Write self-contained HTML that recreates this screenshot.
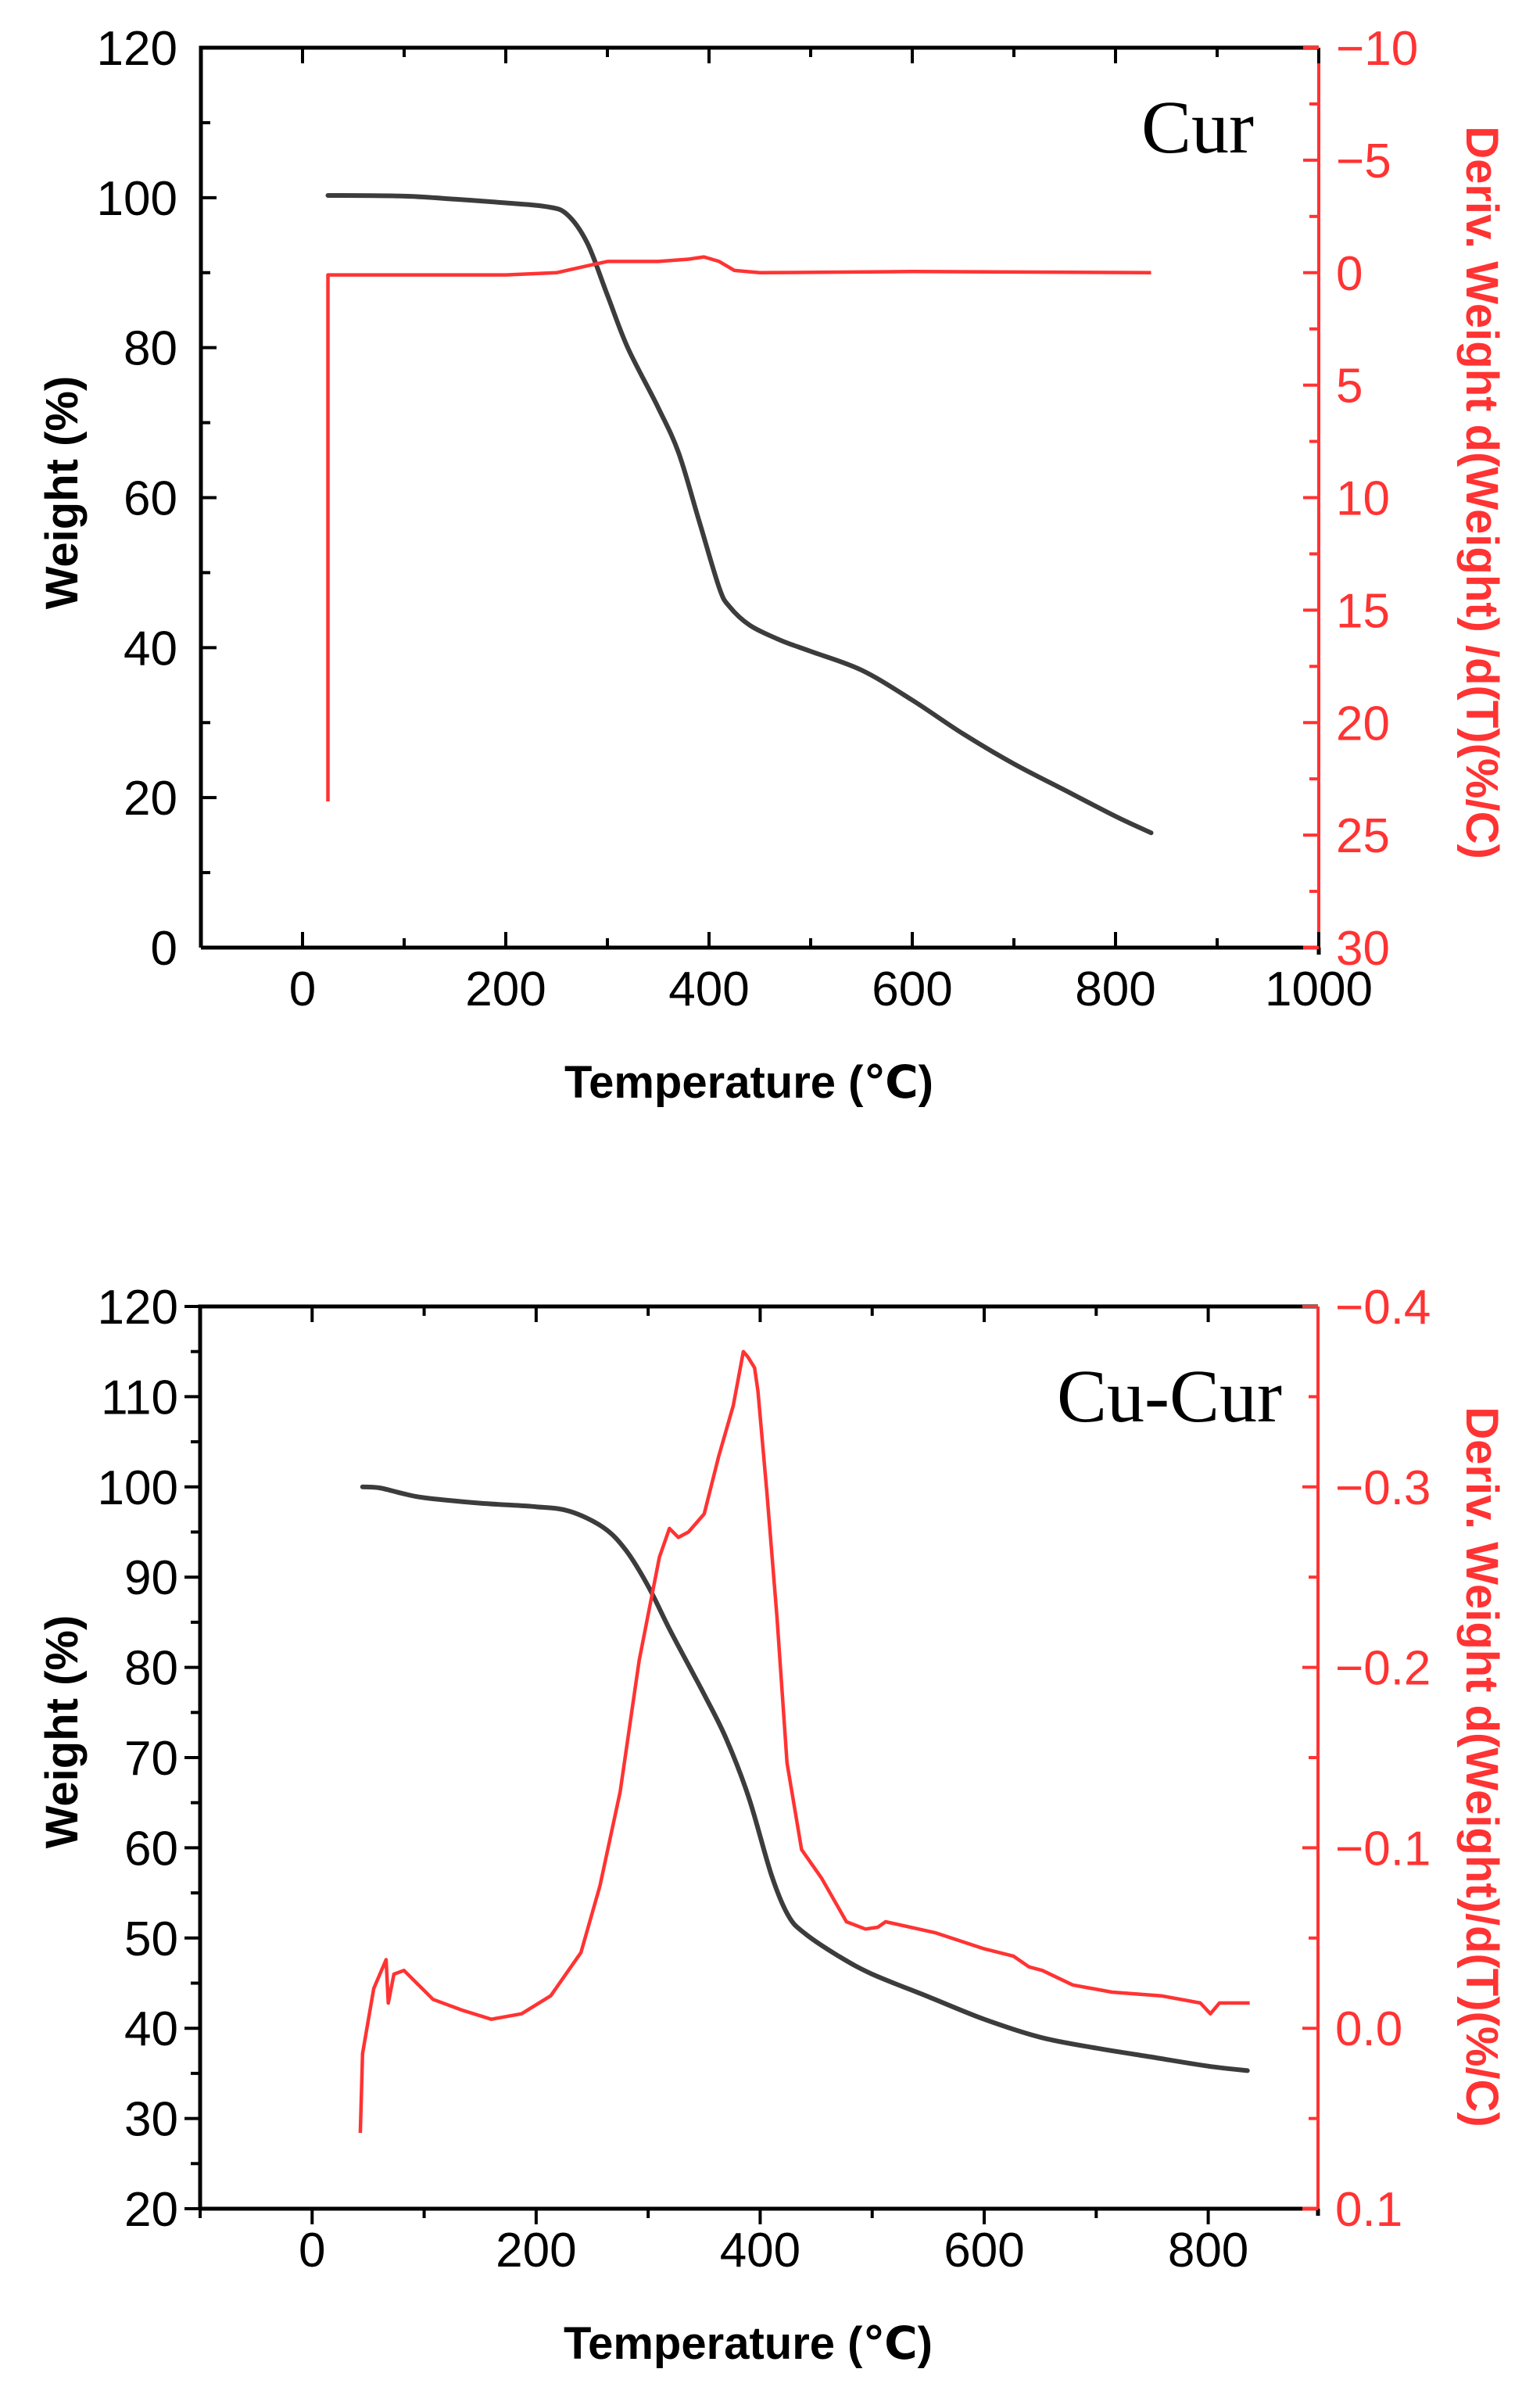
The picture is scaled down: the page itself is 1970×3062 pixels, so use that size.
<!DOCTYPE html>
<html><head><meta charset="utf-8"><style>
html,body{margin:0;padding:0;background:#fff;}
svg{display:block;}
.tk{font-family:"Liberation Sans Narrow","Liberation Sans",sans-serif;font-size:62px;}
.ttl{font-family:"Liberation Sans","DejaVu Sans",sans-serif;font-size:58px;font-weight:bold;}
.rt{font-family:"Liberation Sans","DejaVu Sans",sans-serif;font-size:58px;font-weight:bold;}
.xt{font-family:"Liberation Sans Narrow","Liberation Sans",sans-serif;font-size:62px;}
.lab{font-family:"Liberation Serif",serif;font-size:96px;}
</style></head><body>
<svg id="chart" width="1970" height="3062" viewBox="0 0 1970 3062" xmlns="http://www.w3.org/2000/svg"></svg>
<script>
// Panel 1: Cur
const curTemp = [25,100,150,200,240,260,280,300,320,350,370,390,410,420,440,470,500,550,600,650,700,750,800,835];
const curWeight = [100.3,100.2,99.8,99.3,98.8,97.8,94,87,80,72,66,57,48,45.5,43,41,39.5,37,33,28.5,24.5,21,17.5,15.3];
const curDerivTemp = [25,25,60,200,250,280,300,350,380,395,410,425,450,600,835];
const curDeriv = [23.5,0.1,0.1,0.1,0,-0.3,-0.5,-0.5,-0.6,-0.7,-0.5,-0.1,0,-0.05,0];
const curLeftTicks = [0,20,40,60,80,100,120];
const curRightTicks = [-10,-5,0,5,10,15,20,25,30];
const curRightLabels = ["\u221210","\u22125","0","5","10","15","20","25","30"];
const curXTicks = [0,200,400,600,800,1000];

// Panel 2: Cu-Cur
const cucTemp = [45,60,80,100,150,200,230,260,280,300,320,350,370,390,410,425,440,470,500,550,600,650,700,750,800,835];
const cucWeight = [100,99.9,99.3,98.8,98.2,97.8,97.3,95.5,93,89,84,77,72,65.5,57,52.5,50.5,48,46,43.5,41,39,37.8,36.8,35.8,35.3];
const cucDerivTemp = [43,45,55,66,68,73,82,108,134,160,187,213,240,257,275,292,310,319,327,336,350,363,376,385,389,395,398,406,415,424,437,455,477,494,505,512,556,600,626,640,652,679,714,758,793,802,810,837];
const cucDeriv = [0.058,0.014,-0.022,-0.038,-0.014,-0.030,-0.032,-0.016,-0.010,-0.005,-0.008,-0.018,-0.042,-0.079,-0.131,-0.204,-0.261,-0.277,-0.272,-0.275,-0.285,-0.317,-0.345,-0.375,-0.372,-0.366,-0.353,-0.297,-0.228,-0.147,-0.099,-0.083,-0.059,-0.055,-0.056,-0.059,-0.053,-0.044,-0.040,-0.034,-0.032,-0.024,-0.020,-0.018,-0.014,-0.008,-0.014,-0.014];
const cucLeftTicks = [20,30,40,50,60,70,80,90,100,110,120];
const cucRightTicks = [-0.4,-0.3,-0.2,-0.1,0.0,0.1];
const cucRightLabels = ["\u22120.4","\u22120.3","\u22120.2","\u22120.1","0.0","0.1"];
const cucXTicks = [0,200,400,600,800];

const NS = "http://www.w3.org/2000/svg";
const svg = document.getElementById('chart');
function el(tag, attrs, parent){const e=document.createElementNS(NS,tag);for(const k in attrs)e.setAttribute(k,attrs[k]);(parent||svg).appendChild(e);return e;}
function smooth(pts){
  let d = `M${pts[0][0].toFixed(1)},${pts[0][1].toFixed(1)}`;
  for(let i=0;i<pts.length-1;i++){
    const p0=pts[Math.max(0,i-1)],p1=pts[i],p2=pts[i+1],p3=pts[Math.min(pts.length-1,i+2)];
    const c1x=p1[0]+(p2[0]-p0[0])/6,c1y=p1[1]+(p2[1]-p0[1])/6;
    const c2x=p2[0]-(p3[0]-p1[0])/6,c2y=p2[1]-(p3[1]-p1[1])/6;
    d+=` C${c1x.toFixed(1)},${c1y.toFixed(1)} ${c2x.toFixed(1)},${c2y.toFixed(1)} ${p2[0].toFixed(1)},${p2[1].toFixed(1)}`;
  }
  return d;
}

function panel(o){
  const g = el('g',{});
  
  
  const xs = v => o.L + (v - o.xmin)/(o.xmax - o.xmin)*(o.R - o.L);
  const ys = v => o.B - (v - o.ymin)/(o.ymax - o.ymin)*(o.B - o.T);
  const yr = v => o.T + (v - o.rmin)/(o.rmax - o.rmin)*(o.B - o.T);
  const RED = '#ff3333';
  const fr = el('path',{d:`M${o.L},${o.B} L${o.L},${o.T} L${o.R},${o.T}`,fill:'none',stroke:'#000','stroke-width':5},g);
  
  
  const xb = el('line',{x1:o.L,y1:o.B,x2:o.R-20,y2:o.B,stroke:'#000','stroke-width':5},g);
  
  
  el('line',{x1:o.R-20,y1:o.B,x2:o.R,y2:o.B,stroke:RED,'stroke-width':5},g);
  const ra = el('line',{x1:o.R,y1:o.T,x2:o.R,y2:o.B,stroke:RED,'stroke-width':4},g);
  
  
  el('line',{x1:o.R,y1:o.B,x2:o.R,y2:o.B+9,stroke:'#000','stroke-width':5},g);
  const xdir = o.xOut ? 1 : -1;
  for(let v=o.xmin; v<=o.xmax+0.01; v+=100){
    const major = Math.round(v)%200===0;
    const len = major?20:12;
    el('line',{x1:xs(v),y1:o.B,x2:xs(v),y2:o.B+xdir*len,stroke:'#000','stroke-width':4},g);
    el('line',{x1:xs(v),y1:o.T,x2:xs(v),y2:o.T+len,stroke:'#000','stroke-width':4},g);
  }
  o.xTicks.forEach(v=>{
    const t = el('text',{x:xs(v),y:o.B+74,'text-anchor':'middle',class:'xt'},g);
    t.textContent = v;
    
    
  });
  const ldir = o.yOut ? -1 : 1;
  for(let v=o.ymin; v<=o.ymax+0.01; v+=o.yMinor){
    const major = o.leftTicks.some(t=>Math.abs(t-v)<1e-6);
    el('line',{x1:o.L,y1:ys(v),x2:o.L+ldir*(major?20:12),y2:ys(v),stroke:'#000','stroke-width':4},g);
  }
  o.leftTicks.forEach(v=>{
    const t = el('text',{x:o.L-(o.yOut?28:30),y:ys(v)+22,'text-anchor':'end',class:'tk'},g);
    t.textContent = v;
    
    
  });
  const rstep = (o.rightTicks[1]-o.rightTicks[0])/2;
  for(let i=0;i<=(o.rightTicks.length-1)*2;i++){
    const v = o.rightTicks[0]+i*rstep;
    const major = i%2===0;
    el('line',{x1:o.R,y1:yr(v),x2:o.R-(major?20:12),y2:yr(v),stroke:RED,'stroke-width':4},g);
  }
  o.rightTicks.forEach((v,i)=>{
    const t = el('text',{x:o.R+22,y:yr(v)+22,'text-anchor':'start',class:'tk',fill:RED},g);
    t.textContent = o.rightLabels[i];
    
    
  });
  const wpts = o.wT.map((t,i)=>[xs(t),ys(o.wV[i])]);
  const wp = el('path',{d:smooth(wpts),fill:'none',stroke:'#3c3c3c','stroke-width':6,'stroke-linejoin':'round','stroke-linecap':'round'},g);
  
  
  const dp = el('polyline',{points:o.dT.map((t,i)=>xs(t).toFixed(1)+','+yr(o.dV[i]).toFixed(1)).join(' '),fill:'none',stroke:RED,'stroke-width':4.5,'stroke-linejoin':'round'},g);
  
  
  const xt = el('text',{x:(o.L+o.R)/2-14,y:o.B+192,'text-anchor':'middle',class:'ttl'},g);
  xt.textContent = 'Temperature (\u2103)';
  
  
  const yl = el('text',{x:0,y:0,'text-anchor':'middle',class:'ttl',transform:`translate(99,${o.lyc}) rotate(-90)`},g);
  yl.textContent = 'Weight (%)';
  
  
  const yrT = el('text',{x:0,y:0,'text-anchor':'middle',class:'rt',fill:RED,transform:`translate(1876,${o.ryc}) rotate(90)`},g);
  yrT.textContent = o.rTitle;
  
  
  const lb = el('text',{x:o.labX,y:o.labY,'text-anchor':'end',class:'lab'},g);
  lb.textContent = o.label;
  
  
}

panel({name:'cur-tga-panel',L:257,R:1687,T:61,B:1212,xmin:-100,xmax:1000,ymin:0,ymax:120,yMinor:10,rmin:-10,rmax:30,
  xOut:false,yOut:false,xTicks:curXTicks,leftTicks:curLeftTicks,rightTicks:curRightTicks,rightLabels:curRightLabels,
  wT:curTemp,wV:curWeight,dT:curDerivTemp,dV:curDeriv,lyc:630,ryc:630,
  rTitle:'Deriv. Weight d(Weight) /d(T)(%/C)',label:'Cur',labX:1604,labY:195});
panel({name:'cu-cur-tga-panel',L:256,R:1686,T:1671,B:2825,xmin:-100,xmax:898,ymin:20,ymax:120,yMinor:5,rmin:-0.4,rmax:0.1,
  xOut:true,yOut:true,xTicks:cucXTicks,leftTicks:cucLeftTicks,rightTicks:cucRightTicks,rightLabels:cucRightLabels,
  wT:cucTemp,wV:cucWeight,dT:cucDerivTemp,dV:cucDeriv,lyc:2215,ryc:2260,
  rTitle:'Deriv. Weight d(Weight)/d(T)(%/C)',label:'Cu-Cur',labX:1640,labY:1818});
</script>
</body></html>
